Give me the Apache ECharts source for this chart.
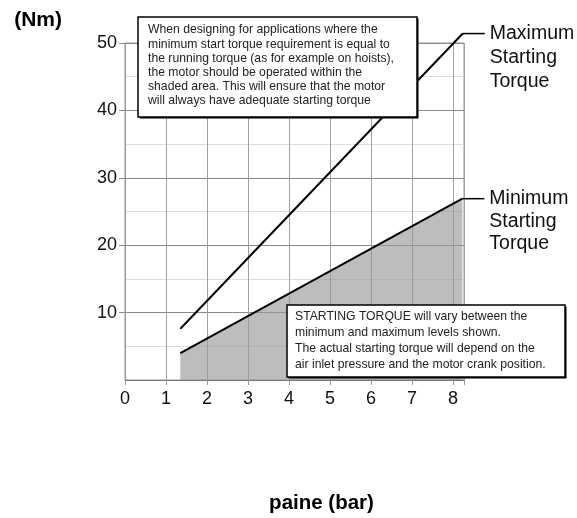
<!DOCTYPE html>
<html>
<head>
<meta charset="utf-8">
<script src="https://cdn.jsdelivr.net/npm/echarts@6/dist/echarts.min.js"></script>
<style>
html,body{margin:0;padding:0;background:#fff;}
#chart{width:577px;height:518px;}
</style>
</head>
<body>
<div id="chart"></div>
<script>
// ---- data ----
var xTicks = [0, 1, 2, 3, 4, 5, 6, 7, 8];
var yTicks = [0, 10, 20, 30, 40, 50];
var maxTorqueX = [1.35, 8.24];
var maxTorqueY = [7.6, 51.4];
var minTorqueX = [1.35, 8.23];
var minTorqueY = [4.0, 26.9];
var maxLabel = ['Maximum', 'Starting', 'Torque'];
var minLabel = ['Minimum', 'Starting', 'Torque'];
var noteTop = [
  'When designing for applications where the',
  'minimum start torque requirement is equal to',
  'the running torque (as for example on hoists),',
  'the motor should be operated within the',
  'shaded area. This will ensure that the motor',
  'will always have adequate starting torque'
];
var noteBottom = [
  'STARTING TORQUE will vary between the',
  'minimum and maximum levels shown.',
  'The actual starting torque will depend on the',
  'air inlet pressure and the motor crank position.'
];
var xName = 'paine (bar)';
var yName = '(Nm)';

function zip(a, b) { return a.map(function (v, i) { return [v, b[i]]; }); }

var FONT = '"Liberation Sans", Arial, Helvetica, sans-serif';
var chart = echarts.init(document.getElementById('chart'));

var option = {
  backgroundColor: '#fff',
  animation: false,
  grid: {
    left: 125, right: 113, top: 43, bottom: 138,
    containLabel: false, outerBoundsMode: 'none',
    show: true, borderColor: '#999', borderWidth: 1, backgroundColor: 'transparent'
  },
  xAxis: {
    type: 'value', min: xTicks[0], max: 8.27, interval: 1,
    name: xName, nameLocation: 'middle', nameGap: 123,
    nameTextStyle: { fontFamily: FONT, fontWeight: 'bold', fontSize: 20.5, color: '#000', verticalAlign: 'middle', padding: [0, 0, 0, 54] },
    axisLine: { show: true, lineStyle: { color: '#777', width: 1 } },
    axisTick: { show: true, length: 5, lineStyle: { color: '#999' } },
    axisLabel: {
      fontFamily: FONT, fontSize: 18, color: '#111', margin: 10,
      formatter: function (v) { return xTicks.indexOf(v) >= 0 ? String(v) : ''; }
    },
    splitLine: { show: true, lineStyle: { color: '#a0a0a0', width: 1 } }
  },
  yAxis: {
    type: 'value', min: yTicks[0], max: yTicks[yTicks.length - 1], interval: 10,
    name: yName, nameLocation: 'end', nameGap: 23,
    nameTextStyle: { fontFamily: FONT, fontWeight: 'bold', fontSize: 21, color: '#000', align: 'right', verticalAlign: 'middle', padding: [0, 63, 0, 0] },
    axisLine: { show: true, lineStyle: { color: '#999', width: 1 } },
    axisTick: { show: true, length: 6, lineStyle: { color: '#888' } },
    axisLabel: { fontFamily: FONT, fontSize: 18, color: '#111', margin: 8, showMinLabel: false },
    splitLine: { show: true, lineStyle: { color: '#8a8a8a', width: 1 } },
    minorTick: { show: false, splitNumber: 2 },
    minorSplitLine: { show: true, lineStyle: { color: '#dddddd', width: 1 } }
  },
  series: [
    {
      type: 'line', name: 'Maximum Starting Torque',
      data: zip(maxTorqueX, maxTorqueY),
      symbol: 'none', clip: false, z: 5,
      lineStyle: { color: '#000', width: 2 }
    },
    {
      type: 'line', name: 'Minimum Starting Torque',
      data: zip(minTorqueX, minTorqueY),
      symbol: 'none', clip: false, z: 4,
      lineStyle: { color: '#000', width: 2 },
      areaStyle: {
        color: '#999999', opacity: 0.65, origin: 'start',
        decal: { symbol: 'rect', color: 'rgba(255,255,255,0.22)', dashArrayX: [[7, 3]], dashArrayY: [1, 5], symbolSize: 1, rotation: 0 }
      }
    }
  ]
};
chart.setOption(option);

function endLabelGraphics(xs, ys, lines, sIdx, lh) {
  var p = chart.convertToPixel({ seriesIndex: sIdx }, [xs[xs.length - 1], ys[ys.length - 1]]);
  var els = [];
  els.push({
    type: 'line', z: 20,
    shape: { x1: p[0], y1: p[1], x2: p[0] + 22, y2: p[1] },
    style: { stroke: '#000', lineWidth: 1.5 }
  });
  els.push({
    type: 'text', z: 20, x: p[0] + 27, y: p[1] - lh / 2,
    style: { text: lines.join('\n'), font: '19.5px ' + FONT, fill: '#111', lineHeight: lh, verticalAlign: 'top' }
  });
  return els;
}

function noteBox(x, y, w, h, lines, fs, lh, padL, padT) {
  return [
    { type: 'rect', z: 30, shape: { x: x + 1.5, y: y + 1.5, width: w, height: h }, style: { fill: '#000' } },
    { type: 'rect', z: 31, shape: { x: x, y: y, width: w, height: h }, style: { fill: '#fff', stroke: '#000', lineWidth: 1.5 } },
    { type: 'text', z: 32, x: x + padL, y: y + padT,
      style: { text: lines.join('\n'), font: fs + 'px ' + FONT, fill: '#222', lineHeight: lh, verticalAlign: 'top' } }
  ];
}

var graphics = []
  .concat(endLabelGraphics(maxTorqueX, maxTorqueY, maxLabel, 0, 24))
  .concat(endLabelGraphics(minTorqueX, minTorqueY, minLabel, 1, 22.5))
  .concat(noteBox(138, 17, 279, 100, noteTop, 12.2, 14.2, 10, 6))
  .concat(noteBox(287, 305, 278, 72, noteBottom, 12.2, 16, 8, 4));

chart.setOption({ graphic: { elements: graphics } });
</script>
</body>
</html>
